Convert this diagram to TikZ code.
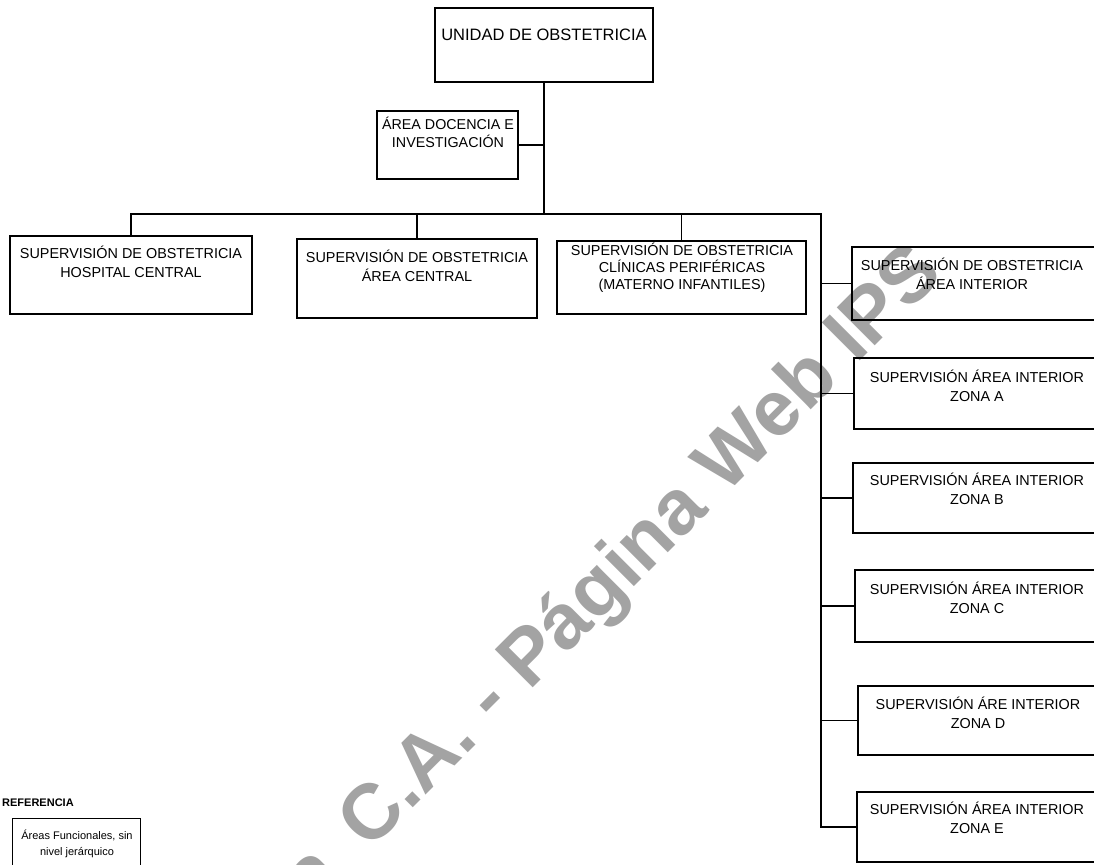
\documentclass[tikz,border=0pt]{standalone}
\usepackage{fontspec}
\setmainfont{Liberation Sans}
\usetikzlibrary{fit}
\definecolor{wmgray}{HTML}{A3A3A3}
\begin{document}
\begin{tikzpicture}[x=1pt,y=-1pt,
  box/.style={draw, line width=1.6pt, inner sep=0pt},
  refbox/.style={draw, line width=0.9pt, inner sep=0pt},
  wire/.style={line width=1.3pt},
  lbl/.style={align=center, inner sep=0pt, anchor=north, font=\fontsize{14.4}{18.5}\selectfont},
  smalllbl/.style={align=center, inner sep=0pt, anchor=north, font=\fontsize{11}{16}\selectfont},
  wm/.style={inner sep=0pt, text=wmgray, font=\fontsize{78}{80}\selectfont\bfseries}
]
\useasboundingbox (0,0) rectangle (1094,864);
\fill[white] (0,0) rectangle (1094,864);

% watermark
\node[wm, rotate=45, anchor=base west] (wmark) at (313.1,907.9) {a\hspace{15pt} C.A. - Página Web IPS};

% boxes
\node[box, fit={(435,8) (653,82)}] (unidad) {};
\node[box, fit={(377,111) (518,179)}] (doc) {};
\node[box, fit={(10,236) (252,314)}] (b1) {};
\node[box, fit={(297,239) (537,318)}] (b2) {};
\node[box, fit={(557,241) (806,314)}] (b3) {};
\node[box, fit={(852,247) (1100,320)}] (b4) {};
\node[box, fit={(854,358) (1100,429)}] (zA) {};
\node[box, fit={(853,463) (1100,533)}] (zB) {};
\node[box, fit={(855,570) (1100,642)}] (zC) {};
\node[box, fit={(858,686) (1100,755)}] (zD) {};
\node[box, fit={(857,792) (1100,862)}] (zE) {};
\node[refbox, fit={(12,818) (140,880)}] (ref) {};

% texts
\node[lbl, font=\fontsize{16.5}{19}\selectfont] (tunidad) at (544,29) {UNIDAD DE OBSTETRICIA};
\node[lbl, font=\fontsize{14.3}{18}\selectfont] (tdoc) at (448,117) {ÁREA DOCENCIA E\\INVESTIGACIÓN};
\node[lbl] (t1) at (131,246) {SUPERVISIÓN DE OBSTETRICIA\\HOSPITAL CENTRAL};
\node[lbl] (t2) at (417,250) {SUPERVISIÓN DE OBSTETRICIA\\ÁREA CENTRAL};
\node[lbl, font=\fontsize{14.4}{17}\selectfont] (t3) at (682,243) {SUPERVISIÓN DE OBSTETRICIA\\CLÍNICAS PERIFÉRICAS\\(MATERNO INFANTILES)};
\node[lbl] (t4) at (972,258) {SUPERVISIÓN DE OBSTETRICIA\\ÁREA INTERIOR};
\node[lbl] (tA) at (977,370) {SUPERVISIÓN ÁREA INTERIOR\\ZONA A};
\node[lbl] (tB) at (977,473) {SUPERVISIÓN ÁREA INTERIOR\\ZONA B};
\node[lbl] (tC) at (977,582) {SUPERVISIÓN ÁREA INTERIOR\\ZONA C};
\node[lbl] (tD) at (978,697) {SUPERVISIÓN ÁRE INTERIOR\\ZONA D};
\node[lbl] (tE) at (977,802) {SUPERVISIÓN ÁREA INTERIOR\\ZONA E};
\node[inner sep=0pt, anchor=north west, font=\fontsize{11}{13}\selectfont\bfseries] (treftitle) at (2,799) {REFERENCIA};
\node[smalllbl] (tref) at (77,830) {Áreas Funcionales, sin\\nivel jerárquico};

% connectors
\coordinate (busL) at (130,214);
\coordinate (busR) at (821,214);
\draw[wire] (unidad.south) -- (unidad.south |- busL);
\draw[wire] (doc.east) -- (doc.east -| unidad.south);
\draw[wire] (busL) -- (busR) |- (zE.west);
\draw[wire] (b1.north |- busL) -- (b1.north);
\draw[wire] (b2.north |- busL) -- (b2.north);
\draw[wire] (b3.north |- busL) -- (b3.north);
\draw[wire] (b4.west -| busR) -- (b4.west);
\draw[wire] (zA.west -| busR) -- (zA.west);
\draw[wire] (zB.west -| busR) -- (zB.west);
\draw[wire] (zC.west -| busR) -- (zC.west);
\draw[wire] (zD.west -| busR) -- (zD.west);
\end{tikzpicture}
\end{document}
